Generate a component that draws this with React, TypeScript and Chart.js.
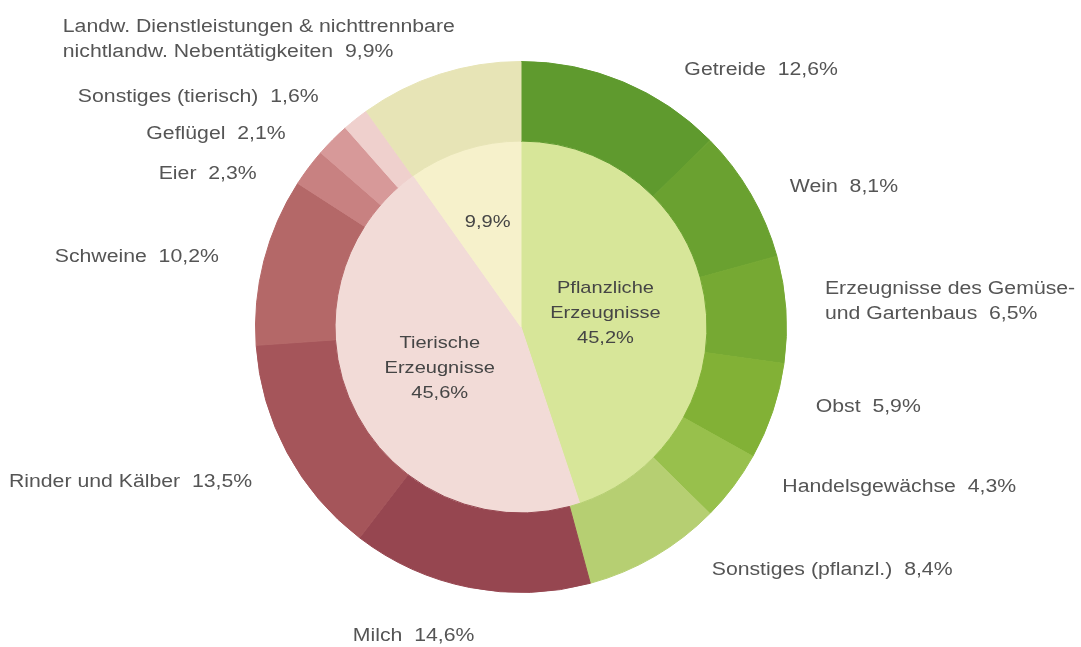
import React, { useEffect, useRef } from "react";
import { Chart, registerables } from "chart.js";

Chart.register(...registerables);

// Outer ring (detail categories)
const outerLabels = [
  "Getreide  12,6%",
  "Wein  8,1%",
  "Erzeugnisse des Gemüse-\nund Gartenbaus  6,5%",
  "Obst  5,9%",
  "Handelsgewächse  4,3%",
  "Sonstiges (pflanzl.)  8,4%",
  "Milch  14,6%",
  "Rinder und Kälber  13,5%",
  "Schweine  10,2%",
  "Eier  2,3%",
  "Geflügel  2,1%",
  "Sonstiges (tierisch)  1,6%",
  "Landw. Dienstleistungen & nichttrennbare\nnichtlandw. Nebentätigkeiten  9,9%",
];
const outerValues = [12.6, 8.1, 6.5, 5.9, 4.3, 8.4, 14.6, 13.5, 10.2, 2.3, 2.1, 1.6, 9.9];
const outerColors = [
  "#5f9a2e", "#6aa130", "#76a933", "#82b136", "#98c04c", "#b6cf72",
  "#964650", "#a5555a", "#b46868", "#c88181", "#d79999", "#efd0cd",
  "#e7e4b6",
];

// Inner pie (main groups)
const innerLabels = ["Pflanzliche\nErzeugnisse\n45,2%", "Tierische\nErzeugnisse\n45,6%", "9,9%"];
const innerValues = [45.2, 45.6, 9.9];
const innerColors = ["#d7e699", "#f2dbd7", "#f6f1cb"];

// Label placement styles (offsets relative to the arc's mid-angle point on the outer edge)
const outerLabelStyle: { align: CanvasTextAlign; dx: number; dy: number }[] = [
  { align: "left", dx: 61, dy: -12 },
  { align: "left", dx: 39, dy: -7 },
  { align: "left", dx: 39, dy: -8 },
  { align: "left", dx: 43, dy: -4 },
  { align: "left", dx: 49, dy: 1 },
  { align: "left", dx: 57, dy: 14 },
  { align: "center", dx: -56, dy: 49 },
  { align: "right", dx: -35, dy: 29 },
  { align: "right", dx: -45, dy: -4 },
  { align: "right", dx: -52, dy: 6 },
  { align: "right", dx: -47, dy: -6 },
  { align: "right", dx: -37, dy: -22 },
  { align: "left", dx: -377, dy: -35 },
];
const innerLabelRadius = [0.46, 0.49, 0.59];

const TEXT_STRETCH = 1.18;

function drawText(
  ctx: CanvasRenderingContext2D,
  text: string,
  x: number,
  y: number,
  align: CanvasTextAlign,
  lineHeight: number
) {
  const lines = text.split("\n");
  const top = y - ((lines.length - 1) * lineHeight) / 2;
  lines.forEach((ln, i) => {
    ctx.save();
    ctx.translate(x, top + i * lineHeight);
    ctx.scale(TEXT_STRETCH, 1);
    ctx.textAlign = align;
    ctx.textBaseline = "middle";
    ctx.fillText(ln, 0, 0);
    ctx.restore();
  });
}

const labelPlugin = {
  id: "ringLabels",
  afterDatasetsDraw(chart: any) {
    const ctx: CanvasRenderingContext2D = chart.ctx;
    // outer ring labels
    const outerMeta = chart.getDatasetMeta(0);
    ctx.save();
    ctx.fillStyle = "#555555";
    ctx.font = '18px "Liberation Sans", Arial, sans-serif';
    outerMeta.data.forEach((arc: any, i: number) => {
      const mid = (arc.startAngle + arc.endAngle) / 2;
      const ax = arc.x + Math.cos(mid) * arc.outerRadius;
      const ay = arc.y + Math.sin(mid) * arc.outerRadius;
      const st = outerLabelStyle[i];
      drawText(ctx, outerLabels[i], ax + st.dx, ay + st.dy, st.align, 25);
    });
    // inner labels
    const innerMeta = chart.getDatasetMeta(1);
    ctx.fillStyle = "#454545";
    ctx.font = '17px "Liberation Sans", Arial, sans-serif';
    innerMeta.data.forEach((arc: any, i: number) => {
      const mid = (arc.startAngle + arc.endAngle) / 2;
      const r = arc.outerRadius * innerLabelRadius[i];
      drawText(ctx, innerLabels[i], arc.x + Math.cos(mid) * r, arc.y + Math.sin(mid) * r, "center", 25);
    });
    ctx.restore();
  },
};

export default function App() {
  const ref = useRef<HTMLCanvasElement | null>(null);
  useEffect(() => {
    if (!ref.current) return;
    const chart = new Chart(ref.current, {
      type: "doughnut",
      data: {
        labels: outerLabels,
        datasets: [
          {
            data: outerValues,
            backgroundColor: outerColors,
            borderColor: outerColors,
            borderWidth: 1,
            weight: 80,
          } as any,
          {
            data: innerValues,
            backgroundColor: innerColors,
            borderColor: innerColors,
            borderWidth: 1,
            weight: 187,
          } as any,
        ],
      },
      options: {
        responsive: false,
        animation: false,
        cutout: 0,
        layout: { padding: { left: 255, right: 294, top: 61, bottom: 54 } },
        plugins: {
          legend: { display: false },
          tooltip: { enabled: false },
        },
      },
      plugins: [labelPlugin],
    });
    return () => chart.destroy();
  }, []);
  return (
    <div style={{ position: "fixed", left: 0, top: 0, width: 1081, height: 647, background: "#ffffff" }}>
      <canvas ref={ref} width={1081} height={647} />
    </div>
  );
}
